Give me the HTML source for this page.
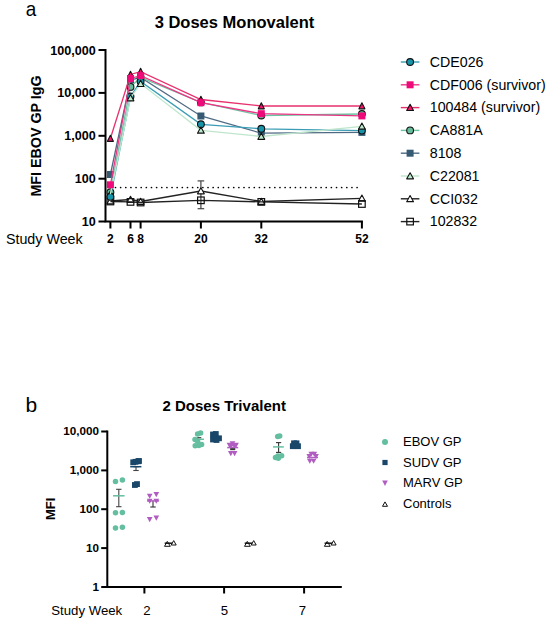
<!DOCTYPE html>
<html><head><meta charset="utf-8"><style>
html,body{margin:0;padding:0;background:#fff;width:550px;height:622px;overflow:hidden;font-family:"Liberation Sans", sans-serif;}
</style></head><body>
<svg width="550" height="622" viewBox="0 0 550 622" style="position:absolute;left:0;top:0">
<rect width="550" height="622" fill="#fff"/>
<text transform="translate(25.7,16.1) scale(0.9,1)" font-family='"Liberation Sans", sans-serif' font-size="21" fill="#000">a</text>
<text x="25.5" y="411.8" font-family='"Liberation Sans", sans-serif' font-size="21" fill="#000">b</text>
<text x="154.7" y="27.5" font-family='"Liberation Sans", sans-serif' font-size="16.5" font-weight="bold" fill="#000">3 Doses Monovalent</text>
<text transform="translate(40.7,196.6) rotate(-90)" font-family='"Liberation Sans", sans-serif' font-size="14.3" font-weight="bold" fill="#000">MFI EBOV GP IgG</text>
<g stroke="#000" stroke-width="2" fill="none">
<path d="M105.5,49 V221.5 H362.9"/>
<path d="M98.5,50 H105.5"/>
<path d="M98.5,92.9 H105.5"/>
<path d="M98.5,135.8 H105.5"/>
<path d="M98.5,178.7 H105.5"/>
<path d="M98.5,221.5 H105.5"/>
<path d="M110.4,221.5 V228.5"/>
<path d="M130.5,221.5 V228.5"/>
<path d="M140.6,221.5 V228.5"/>
<path d="M200.9,221.5 V228.5"/>
<path d="M261.3,221.5 V228.5"/>
<path d="M361.9,221.5 V228.5"/>
</g>
<text x="95.8" y="54.5" text-anchor="end" font-family='"Liberation Sans", sans-serif' font-size="12.6" font-weight="bold" fill="#000">100,000</text>
<text x="95.8" y="97.4" text-anchor="end" font-family='"Liberation Sans", sans-serif' font-size="12.6" font-weight="bold" fill="#000">10,000</text>
<text x="95.8" y="140.3" text-anchor="end" font-family='"Liberation Sans", sans-serif' font-size="12.6" font-weight="bold" fill="#000">1,000</text>
<text x="95.8" y="183.2" text-anchor="end" font-family='"Liberation Sans", sans-serif' font-size="12.6" font-weight="bold" fill="#000">100</text>
<text x="95.8" y="226.0" text-anchor="end" font-family='"Liberation Sans", sans-serif' font-size="12.6" font-weight="bold" fill="#000">10</text>
<text x="110.4" y="242.6" text-anchor="middle" font-family='"Liberation Sans", sans-serif' font-size="12" font-weight="bold" fill="#000">2</text>
<text x="130.5" y="242.6" text-anchor="middle" font-family='"Liberation Sans", sans-serif' font-size="12" font-weight="bold" fill="#000">6</text>
<text x="140.6" y="242.6" text-anchor="middle" font-family='"Liberation Sans", sans-serif' font-size="12" font-weight="bold" fill="#000">8</text>
<text x="200.9" y="242.6" text-anchor="middle" font-family='"Liberation Sans", sans-serif' font-size="12" font-weight="bold" fill="#000">20</text>
<text x="261.3" y="242.6" text-anchor="middle" font-family='"Liberation Sans", sans-serif' font-size="12" font-weight="bold" fill="#000">32</text>
<text x="361.9" y="242.6" text-anchor="middle" font-family='"Liberation Sans", sans-serif' font-size="12" font-weight="bold" fill="#000">52</text>
<text x="5.9" y="243.8" font-family='"Liberation Sans", sans-serif' font-size="14.3" fill="#000">Study Week</text>
<circle cx="115.50" cy="187.5" r="0.85" fill="#000"/><circle cx="120.64" cy="187.5" r="0.85" fill="#000"/><circle cx="125.78" cy="187.5" r="0.85" fill="#000"/><circle cx="130.92" cy="187.5" r="0.85" fill="#000"/><circle cx="136.06" cy="187.5" r="0.85" fill="#000"/><circle cx="141.20" cy="187.5" r="0.85" fill="#000"/><circle cx="146.34" cy="187.5" r="0.85" fill="#000"/><circle cx="151.48" cy="187.5" r="0.85" fill="#000"/><circle cx="156.62" cy="187.5" r="0.85" fill="#000"/><circle cx="161.76" cy="187.5" r="0.85" fill="#000"/><circle cx="166.90" cy="187.5" r="0.85" fill="#000"/><circle cx="172.04" cy="187.5" r="0.85" fill="#000"/><circle cx="177.18" cy="187.5" r="0.85" fill="#000"/><circle cx="182.32" cy="187.5" r="0.85" fill="#000"/><circle cx="187.46" cy="187.5" r="0.85" fill="#000"/><circle cx="192.60" cy="187.5" r="0.85" fill="#000"/><circle cx="197.74" cy="187.5" r="0.85" fill="#000"/><circle cx="202.88" cy="187.5" r="0.85" fill="#000"/><circle cx="208.02" cy="187.5" r="0.85" fill="#000"/><circle cx="213.16" cy="187.5" r="0.85" fill="#000"/><circle cx="218.30" cy="187.5" r="0.85" fill="#000"/><circle cx="223.44" cy="187.5" r="0.85" fill="#000"/><circle cx="228.58" cy="187.5" r="0.85" fill="#000"/><circle cx="233.72" cy="187.5" r="0.85" fill="#000"/><circle cx="238.86" cy="187.5" r="0.85" fill="#000"/><circle cx="244.00" cy="187.5" r="0.85" fill="#000"/><circle cx="249.14" cy="187.5" r="0.85" fill="#000"/><circle cx="254.28" cy="187.5" r="0.85" fill="#000"/><circle cx="259.42" cy="187.5" r="0.85" fill="#000"/><circle cx="264.56" cy="187.5" r="0.85" fill="#000"/><circle cx="269.70" cy="187.5" r="0.85" fill="#000"/><circle cx="274.84" cy="187.5" r="0.85" fill="#000"/><circle cx="279.98" cy="187.5" r="0.85" fill="#000"/><circle cx="285.12" cy="187.5" r="0.85" fill="#000"/><circle cx="290.26" cy="187.5" r="0.85" fill="#000"/><circle cx="295.40" cy="187.5" r="0.85" fill="#000"/><circle cx="300.54" cy="187.5" r="0.85" fill="#000"/><circle cx="305.68" cy="187.5" r="0.85" fill="#000"/><circle cx="310.82" cy="187.5" r="0.85" fill="#000"/><circle cx="315.96" cy="187.5" r="0.85" fill="#000"/><circle cx="321.10" cy="187.5" r="0.85" fill="#000"/><circle cx="326.24" cy="187.5" r="0.85" fill="#000"/><circle cx="331.38" cy="187.5" r="0.85" fill="#000"/><circle cx="336.52" cy="187.5" r="0.85" fill="#000"/><circle cx="341.66" cy="187.5" r="0.85" fill="#000"/><circle cx="346.80" cy="187.5" r="0.85" fill="#000"/><circle cx="351.94" cy="187.5" r="0.85" fill="#000"/><circle cx="357.08" cy="187.5" r="0.85" fill="#000"/>
<polyline points="110.40,201.00 130.50,199.50 140.60,201.50 200.90,191.00 261.30,201.50 361.90,198.30" fill="none" stroke="#222" stroke-width="1.3"/>
<g stroke="#444" stroke-width="1.2"><path d="M200.9,180.9 V208.7"/><path d="M197.6,180.9 H204.2"/><path d="M197.6,208.7 H204.2"/></g>
<polygon points="110.40,197.75 113.80,203.85 107.00,203.85" fill="#fff" stroke="#111" stroke-width="1.1" stroke-linejoin="round"/>
<polygon points="130.50,196.25 133.90,202.35 127.10,202.35" fill="#fff" stroke="#111" stroke-width="1.1" stroke-linejoin="round"/>
<polygon points="140.60,198.25 144.00,204.35 137.20,204.35" fill="#fff" stroke="#111" stroke-width="1.1" stroke-linejoin="round"/>
<polygon points="200.90,187.75 204.30,193.85 197.50,193.85" fill="#fff" stroke="#111" stroke-width="1.1" stroke-linejoin="round"/>
<polygon points="261.30,198.25 264.70,204.35 257.90,204.35" fill="#fff" stroke="#111" stroke-width="1.1" stroke-linejoin="round"/>
<polygon points="361.90,195.05 365.30,201.15 358.50,201.15" fill="#fff" stroke="#111" stroke-width="1.1" stroke-linejoin="round"/>
<polyline points="110.40,201.50 130.50,201.90 140.60,202.50 200.90,200.30 261.30,201.90 361.90,204.00" fill="none" stroke="#222" stroke-width="1.3"/>
<rect x="107.10" y="198.20" width="6.6" height="6.6" fill="none" stroke="#111" stroke-width="1.2"/>
<rect x="127.20" y="198.60" width="6.6" height="6.6" fill="none" stroke="#111" stroke-width="1.2"/>
<rect x="137.30" y="199.20" width="6.6" height="6.6" fill="none" stroke="#111" stroke-width="1.2"/>
<rect x="197.60" y="197.00" width="6.6" height="6.6" fill="none" stroke="#111" stroke-width="1.2"/>
<rect x="258.00" y="198.60" width="6.6" height="6.6" fill="none" stroke="#111" stroke-width="1.2"/>
<rect x="358.60" y="200.70" width="6.6" height="6.6" fill="none" stroke="#111" stroke-width="1.2"/>
<polyline points="110.40,174.50 130.50,80.00 140.60,77.40 200.90,116.00 261.30,133.20 361.90,132.40" fill="none" stroke="#4f6b84" stroke-width="1.3"/>
<rect x="106.90" y="171.00" width="7" height="7" fill="#375a73" stroke="none" stroke-width="1.1"/>
<rect x="127.00" y="76.50" width="7" height="7" fill="#375a73" stroke="none" stroke-width="1.1"/>
<rect x="137.10" y="73.90" width="7" height="7" fill="#375a73" stroke="none" stroke-width="1.1"/>
<rect x="197.40" y="112.50" width="7" height="7" fill="#375a73" stroke="none" stroke-width="1.1"/>
<rect x="257.80" y="129.70" width="7" height="7" fill="#375a73" stroke="none" stroke-width="1.1"/>
<rect x="358.40" y="128.90" width="7" height="7" fill="#375a73" stroke="none" stroke-width="1.1"/>
<polyline points="110.40,192.30 130.50,86.90 140.60,77.50 200.90,102.40 261.30,115.50 361.90,114.00" fill="none" stroke="#6cc4a2" stroke-width="1.3"/>
<circle cx="110.40" cy="192.30" r="3.4" fill="#64be9b" stroke="#111" stroke-width="1.1"/>
<circle cx="130.50" cy="86.90" r="3.4" fill="#64be9b" stroke="#111" stroke-width="1.1"/>
<circle cx="140.60" cy="77.50" r="3.4" fill="#64be9b" stroke="#111" stroke-width="1.1"/>
<circle cx="200.90" cy="102.40" r="3.4" fill="#64be9b" stroke="#111" stroke-width="1.1"/>
<circle cx="261.30" cy="115.50" r="3.4" fill="#64be9b" stroke="#111" stroke-width="1.1"/>
<circle cx="361.90" cy="114.00" r="3.4" fill="#64be9b" stroke="#111" stroke-width="1.1"/>
<polyline points="110.40,138.50 130.50,74.50 140.60,71.60 200.90,99.50 261.30,106.00 361.90,106.00" fill="none" stroke="#e8306d" stroke-width="1.3"/>
<polygon points="110.40,135.25 113.40,141.35 107.40,141.35" fill="#f5106a" stroke="#111" stroke-width="1.1" stroke-linejoin="round"/>
<polygon points="130.50,71.25 133.50,77.35 127.50,77.35" fill="#f5106a" stroke="#111" stroke-width="1.1" stroke-linejoin="round"/>
<polygon points="140.60,68.35 143.60,74.45 137.60,74.45" fill="#f5106a" stroke="#111" stroke-width="1.1" stroke-linejoin="round"/>
<polygon points="200.90,96.25 203.90,102.35 197.90,102.35" fill="#f5106a" stroke="#111" stroke-width="1.1" stroke-linejoin="round"/>
<polygon points="261.30,102.75 264.30,108.85 258.30,108.85" fill="#f5106a" stroke="#111" stroke-width="1.1" stroke-linejoin="round"/>
<polygon points="361.90,102.75 364.90,108.85 358.90,108.85" fill="#f5106a" stroke="#111" stroke-width="1.1" stroke-linejoin="round"/>
<polygon points="110.40,190.75 113.80,196.85 107.00,196.85" fill="#bcebcd" stroke="#111" stroke-width="1.1" stroke-linejoin="round"/>
<polyline points="110.40,196.80 130.50,96.50 140.60,81.50 200.90,124.30 261.30,128.80 361.90,130.60" fill="none" stroke="#3a9db5" stroke-width="1.3"/>
<circle cx="110.40" cy="196.80" r="3.4" fill="#1594aa" stroke="#111" stroke-width="1.1"/>
<circle cx="130.50" cy="96.50" r="3.4" fill="#1594aa" stroke="#111" stroke-width="1.1"/>
<circle cx="140.60" cy="81.50" r="3.4" fill="#1594aa" stroke="#111" stroke-width="1.1"/>
<circle cx="200.90" cy="124.30" r="3.4" fill="#1594aa" stroke="#111" stroke-width="1.1"/>
<circle cx="261.30" cy="128.80" r="3.4" fill="#1594aa" stroke="#111" stroke-width="1.1"/>
<circle cx="361.90" cy="130.60" r="3.4" fill="#1594aa" stroke="#111" stroke-width="1.1"/>
<polyline points="110.40,194.00 130.50,98.00 140.60,83.60 200.90,130.30 261.30,136.50 361.90,126.30" fill="none" stroke="#bfe6cc" stroke-width="1.3"/>
<polygon points="130.50,94.75 133.90,100.85 127.10,100.85" fill="#bcebcd" stroke="#111" stroke-width="1.1" stroke-linejoin="round"/>
<polygon points="140.60,80.35 144.00,86.45 137.20,86.45" fill="#bcebcd" stroke="#111" stroke-width="1.1" stroke-linejoin="round"/>
<polygon points="200.90,127.05 204.30,133.15 197.50,133.15" fill="#bcebcd" stroke="#111" stroke-width="1.1" stroke-linejoin="round"/>
<polygon points="261.30,133.25 264.70,139.35 257.90,139.35" fill="#bcebcd" stroke="#111" stroke-width="1.1" stroke-linejoin="round"/>
<polygon points="361.90,123.05 365.30,129.15 358.50,129.15" fill="#bcebcd" stroke="#111" stroke-width="1.1" stroke-linejoin="round"/>
<polyline points="110.40,184.80 130.50,78.50 140.60,75.60 200.90,102.70 261.30,113.70 361.90,115.90" fill="none" stroke="#ec3585" stroke-width="1.3"/>
<rect x="106.90" y="181.30" width="7" height="7" fill="#ee0a78" stroke="none" stroke-width="1.1"/>
<rect x="127.00" y="75.00" width="7" height="7" fill="#ee0a78" stroke="none" stroke-width="1.1"/>
<rect x="137.10" y="72.10" width="7" height="7" fill="#ee0a78" stroke="none" stroke-width="1.1"/>
<rect x="197.40" y="99.20" width="7" height="7" fill="#ee0a78" stroke="none" stroke-width="1.1"/>
<rect x="257.80" y="110.20" width="7" height="7" fill="#ee0a78" stroke="none" stroke-width="1.1"/>
<rect x="358.40" y="112.40" width="7" height="7" fill="#ee0a78" stroke="none" stroke-width="1.1"/>
<path d="M400.8,62.00 H419.4" stroke="#3a9db5" stroke-width="1.4"/>
<circle cx="410.10" cy="62.00" r="3.4" fill="#1594aa" stroke="#111" stroke-width="1.1"/>
<text x="429.8" y="66.80" font-family='"Liberation Sans", sans-serif' font-size="14.2" fill="#000">CDE026</text>
<path d="M400.8,84.80 H419.4" stroke="#ec3585" stroke-width="1.4"/>
<rect x="406.60" y="81.30" width="7" height="7" fill="#ee0a78" stroke="none" stroke-width="1.1"/>
<text x="429.8" y="89.60" font-family='"Liberation Sans", sans-serif' font-size="14.2" fill="#000">CDF006 (survivor)</text>
<path d="M400.8,107.60 H419.4" stroke="#e8306d" stroke-width="1.4"/>
<polygon points="410.10,104.35 413.50,110.45 406.70,110.45" fill="#f5106a" stroke="#111" stroke-width="1.1" stroke-linejoin="round"/>
<text x="429.8" y="112.40" font-family='"Liberation Sans", sans-serif' font-size="14.2" fill="#000">100484 (survivor)</text>
<path d="M400.8,130.40 H419.4" stroke="#6cc4a2" stroke-width="1.4"/>
<circle cx="410.10" cy="130.40" r="3.4" fill="#64be9b" stroke="#111" stroke-width="1.1"/>
<text x="429.8" y="135.20" font-family='"Liberation Sans", sans-serif' font-size="14.2" fill="#000">CA881A</text>
<path d="M400.8,153.20 H419.4" stroke="#4f6b84" stroke-width="1.4"/>
<rect x="406.60" y="149.70" width="7" height="7" fill="#375a73" stroke="none" stroke-width="1.1"/>
<text x="429.8" y="158.00" font-family='"Liberation Sans", sans-serif' font-size="14.2" fill="#000">8108</text>
<path d="M400.8,176.00 H419.4" stroke="#bfe6cc" stroke-width="1.4"/>
<polygon points="410.10,172.75 413.50,178.85 406.70,178.85" fill="#bcebcd" stroke="#111" stroke-width="1.1" stroke-linejoin="round"/>
<text x="429.8" y="180.80" font-family='"Liberation Sans", sans-serif' font-size="14.2" fill="#000">C22081</text>
<path d="M400.8,198.80 H419.4" stroke="#222" stroke-width="1.4"/>
<polygon points="410.10,195.55 413.50,201.65 406.70,201.65" fill="#fff" stroke="#111" stroke-width="1.1" stroke-linejoin="round"/>
<text x="429.8" y="203.60" font-family='"Liberation Sans", sans-serif' font-size="14.2" fill="#000">CCI032</text>
<path d="M400.8,221.60 H419.4" stroke="#222" stroke-width="1.4"/>
<rect x="406.80" y="218.30" width="6.6" height="6.6" fill="none" stroke="#111" stroke-width="1.2"/>
<text x="429.8" y="226.40" font-family='"Liberation Sans", sans-serif' font-size="14.2" fill="#000">102832</text>
<text x="162.5" y="410.5" font-family='"Liberation Sans", sans-serif' font-size="15" font-weight="bold" fill="#000">2 Doses Trivalent</text>
<text transform="translate(55.1,520.1) rotate(-90)" font-family='"Liberation Sans", sans-serif' font-size="13" font-weight="bold" fill="#000">MFI</text>
<g stroke="#000" stroke-width="2" fill="none">
<path d="M107.3,430.5 V587.0 H341.8"/>
<path d="M101.2,431.5 H107.3"/>
<path d="M101.2,470.4 H107.3"/>
<path d="M101.2,509.2 H107.3"/>
<path d="M101.2,548.1 H107.3"/>
<path d="M101.2,587.0 H107.3"/>
<path d="M144.4,587.0 V593.5"/>
<path d="M224.1,587.0 V593.5"/>
<path d="M304.1,587.0 V593.5"/>
</g>
<text x="99.1" y="435.1" text-anchor="end" font-family='"Liberation Sans", sans-serif' font-size="11.7" font-weight="bold" fill="#000">10,000</text>
<text x="99.1" y="474.0" text-anchor="end" font-family='"Liberation Sans", sans-serif' font-size="11.7" font-weight="bold" fill="#000">1,000</text>
<text x="99.1" y="512.8" text-anchor="end" font-family='"Liberation Sans", sans-serif' font-size="11.7" font-weight="bold" fill="#000">100</text>
<text x="99.1" y="551.7" text-anchor="end" font-family='"Liberation Sans", sans-serif' font-size="11.7" font-weight="bold" fill="#000">10</text>
<text x="99.1" y="590.6" text-anchor="end" font-family='"Liberation Sans", sans-serif' font-size="11.7" font-weight="bold" fill="#000">1</text>
<text x="146.9" y="615.0" text-anchor="middle" font-family='"Liberation Sans", sans-serif' font-size="13.2" fill="#000">2</text>
<text x="224.4" y="615.0" text-anchor="middle" font-family='"Liberation Sans", sans-serif' font-size="13.2" fill="#000">5</text>
<text x="302.4" y="615.0" text-anchor="middle" font-family='"Liberation Sans", sans-serif' font-size="13.2" fill="#000">7</text>
<text x="51.3" y="614.6" font-family='"Liberation Sans", sans-serif' font-size="13.2" fill="#000">Study Week</text>
<circle cx="115.50" cy="481.50" r="2.75" fill="#64bea0"/>
<circle cx="122.40" cy="480.10" r="2.75" fill="#64bea0"/>
<circle cx="115.50" cy="512.80" r="2.75" fill="#64bea0"/>
<circle cx="122.40" cy="512.60" r="2.75" fill="#64bea0"/>
<circle cx="115.50" cy="527.90" r="2.75" fill="#64bea0"/>
<circle cx="122.40" cy="527.20" r="2.75" fill="#64bea0"/>
<g stroke="#444" stroke-width="1.1"><path d="M118.8,489.3 V506.7"/><path d="M116.1,489.3 H121.5"/><path d="M116.1,506.7 H121.5"/></g>
<path d="M113.05,495.8 H124.55" stroke="#64bea0" stroke-width="1.5"/>
<rect x="130.30" y="459.40" width="5.8" height="5.8" fill="#194669"/>
<rect x="132.60" y="458.90" width="5.8" height="5.8" fill="#194669"/>
<rect x="135.30" y="458.40" width="5.8" height="5.8" fill="#194669"/>
<rect x="136.10" y="458.10" width="5.8" height="5.8" fill="#194669"/>
<rect x="132.00" y="482.10" width="5.8" height="5.8" fill="#194669"/>
<rect x="134.10" y="481.20" width="5.8" height="5.8" fill="#194669"/>
<g stroke="#444" stroke-width="1.1"><path d="M136.0,466.7 V470.5"/><path d="M133.3,466.7 H138.7"/><path d="M133.3,470.5 H138.7"/></g>
<path d="M130.20000000000002,466.7 H141.4" stroke="#194669" stroke-width="1.5"/>
<polygon points="146.85,493.65 152.55,493.65 149.70,498.75" fill="#b05cc0"/>
<polygon points="153.45,492.05 159.15,492.05 156.30,497.15" fill="#b05cc0"/>
<polygon points="146.85,498.75 152.55,498.75 149.70,503.85" fill="#b05cc0"/>
<polygon points="153.45,498.75 159.15,498.75 156.30,503.85" fill="#b05cc0"/>
<polygon points="146.85,517.05 152.55,517.05 149.70,522.15" fill="#b05cc0"/>
<polygon points="153.45,515.55 159.15,515.55 156.30,520.65" fill="#b05cc0"/>
<g stroke="#333" stroke-width="1.1"><path d="M153,501 V507"/><path d="M150.3,507 H155.7"/></g>
<path d="M147.0,500.9 H159.0" stroke="#b05cc0" stroke-width="1.5"/>
<polygon points="167.30,541.4 170.30,546.3 164.50,546.3" fill="#fff" stroke="#111" stroke-width="1"/><polygon points="173.70,540.60 176.20,545.00 171.20,545.00" fill="#fff" stroke="#111" stroke-width="1"/><path d="M164.7,543.2 H172.29999999999998" stroke="#111" stroke-width="1.5"/>
<polygon points="247.30,541.4 250.30,546.3 244.50,546.3" fill="#fff" stroke="#111" stroke-width="1"/><polygon points="253.70,540.60 256.20,545.00 251.20,545.00" fill="#fff" stroke="#111" stroke-width="1"/><path d="M244.7,543.2 H252.29999999999998" stroke="#111" stroke-width="1.5"/>
<polygon points="327.20,541.4 330.20,546.3 324.40,546.3" fill="#fff" stroke="#111" stroke-width="1"/><polygon points="333.60,540.60 336.10,545.00 331.10,545.00" fill="#fff" stroke="#111" stroke-width="1"/><path d="M324.6,543.2 H332.2" stroke="#111" stroke-width="1.5"/>
<circle cx="197.60" cy="434.00" r="2.75" fill="#64bea0"/>
<circle cx="200.60" cy="432.90" r="2.75" fill="#64bea0"/>
<circle cx="195.00" cy="439.60" r="2.75" fill="#64bea0"/>
<circle cx="197.60" cy="441.20" r="2.75" fill="#64bea0"/>
<circle cx="195.20" cy="445.80" r="2.75" fill="#64bea0"/>
<circle cx="201.60" cy="444.40" r="2.75" fill="#64bea0"/>
<circle cx="198.80" cy="445.60" r="2.75" fill="#64bea0"/>
<path d="M196.39999999999998,439.3 H204.0" stroke="#64bea0" stroke-width="1.5"/>
<path d="M197.3,437.7 H201.3" stroke="#333" stroke-width="1.1"/>
<rect x="210.10" y="436.60" width="5.8" height="5.8" fill="#194669"/>
<rect x="210.10" y="431.60" width="5.8" height="5.8" fill="#194669"/>
<rect x="212.90" y="431.10" width="5.8" height="5.8" fill="#194669"/>
<rect x="213.10" y="435.60" width="5.8" height="5.8" fill="#194669"/>
<rect x="216.10" y="435.40" width="5.8" height="5.8" fill="#194669"/>
<rect x="213.60" y="437.10" width="5.8" height="5.8" fill="#194669"/>
<polygon points="226.65,442.85 232.35,442.85 229.50,447.95" fill="#b05cc0"/>
<polygon points="233.15,442.85 238.85,442.85 236.00,447.95" fill="#b05cc0"/>
<polygon points="229.65,441.25 235.35,441.25 232.50,446.35" fill="#b05cc0"/>
<polygon points="228.15,443.85 233.85,443.85 231.00,448.95" fill="#b05cc0"/>
<polygon points="231.65,443.85 237.35,443.85 234.50,448.95" fill="#b05cc0"/>
<polygon points="227.95,451.05 233.65,451.05 230.80,456.15" fill="#b05cc0"/>
<polygon points="231.75,451.05 237.45,451.05 234.60,456.15" fill="#b05cc0"/>
<path d="M227.2,447.6 H238.2" stroke="#b05cc0" stroke-width="1.5"/>
<g stroke="#333" stroke-width="1.1"><path d="M232.7,448.8 V449.6"/><path d="M230.2,448.8 H235.2"/><path d="M230.2,449.6 H235.2"/></g>
<circle cx="277.70" cy="436.40" r="2.75" fill="#64bea0"/>
<circle cx="279.70" cy="436.00" r="2.75" fill="#64bea0"/>
<circle cx="275.50" cy="457.60" r="2.75" fill="#64bea0"/>
<circle cx="278.00" cy="456.00" r="2.75" fill="#64bea0"/>
<circle cx="281.60" cy="455.80" r="2.75" fill="#64bea0"/>
<circle cx="278.30" cy="458.20" r="2.75" fill="#64bea0"/>
<g stroke="#333" stroke-width="1.1"><path d="M278.6,442.6 V452.4"/><path d="M276.0,442.6 H281.20000000000005"/><path d="M276.0,452.4 H281.20000000000005"/></g>
<path d="M273.0,446.9 H283.79999999999995" stroke="#64bea0" stroke-width="1.5"/>
<rect x="291.10" y="440.40" width="5.8" height="5.8" fill="#194669"/>
<rect x="293.60" y="440.40" width="5.8" height="5.8" fill="#194669"/>
<rect x="289.90" y="443.30" width="5.8" height="5.8" fill="#194669"/>
<rect x="295.10" y="443.30" width="5.8" height="5.8" fill="#194669"/>
<rect x="292.60" y="442.90" width="5.8" height="5.8" fill="#194669"/>
<polygon points="308.45,451.65 314.15,451.65 311.30,456.75" fill="#b05cc0"/>
<polygon points="311.45,451.65 317.15,451.65 314.30,456.75" fill="#b05cc0"/>
<polygon points="306.45,453.95 312.15,453.95 309.30,459.05" fill="#b05cc0"/>
<polygon points="313.15,453.95 318.85,453.95 316.00,459.05" fill="#b05cc0"/>
<polygon points="306.95,458.65 312.65,458.65 309.80,463.75" fill="#b05cc0"/>
<polygon points="310.75,458.65 316.45,458.65 313.60,463.75" fill="#b05cc0"/>
<path d="M307.0,457.5 H318.0" stroke="#b05cc0" stroke-width="1.5"/>
<circle cx="385" cy="442.0" r="3" fill="#64bea0"/>
<rect x="382.4" y="459.9" width="5.2" height="5.2" fill="#194669"/>
<polygon points="382.20,480.50 387.80,480.50 385.00,485.90" fill="#b05cc0"/>
<polygon points="385.00,501.90 387.50,506.30 382.50,506.30" fill="#fff" stroke="#111" stroke-width="1"/>
<text x="403.0" y="446.0" font-family='"Liberation Sans", sans-serif' font-size="13" fill="#000">EBOV GP</text>
<text x="403.0" y="466.5" font-family='"Liberation Sans", sans-serif' font-size="13" fill="#000">SUDV GP</text>
<text x="403.0" y="487.0" font-family='"Liberation Sans", sans-serif' font-size="13" fill="#000">MARV GP</text>
<text x="403.0" y="507.5" font-family='"Liberation Sans", sans-serif' font-size="13" fill="#000">Controls</text>
</svg>
</body></html>
